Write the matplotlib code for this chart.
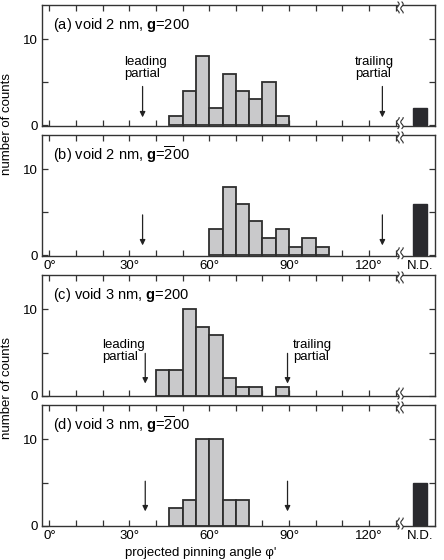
import numpy as np
import matplotlib
matplotlib.use('Agg')
from matplotlib import pyplot as plt
from matplotlib.patches import Polygon

plt.rcParams['font.family'] = ['Liberation Sans', 'DejaVu Sans']
plt.rcParams['mathtext.fontset'] = 'custom'
plt.rcParams['mathtext.rm'] = 'Liberation Sans'
plt.rcParams['mathtext.bf'] = 'Liberation Sans:bold'

# histogram data (5 degree bins, left edges)
bin_edges = [40, 45, 50, 55, 60, 65, 70, 75, 80, 85, 90, 95, 100]
counts_a = [0, 1, 4, 8, 2, 6, 4, 3, 5, 1, 0, 0, 0]
counts_b = [0, 0, 0, 0, 3, 8, 6, 4, 2, 3, 1, 2, 1]
counts_c = [3, 3, 10, 8, 7, 2, 1, 1, 0, 1, 0, 0, 0]
counts_d = [0, 2, 3, 10, 10, 3, 3, 0, 0, 0, 0, 0, 0]
nd_counts = [2, 6, 0, 5]

titles = [r'(a) void 2 nm, $\mathbf{g}$=200',
          r'(b) void 2 nm, $\mathbf{g}$=$\overline{2}$00',
          r'(c) void 3 nm, $\mathbf{g}$=200',
          r'(d) void 3 nm, $\mathbf{g}$=$\overline{2}$00']
# partial dislocation arrow positions (deg)
leading = [35, 35, 36, 36]
trailing = [125, 125, 89.4, 89.4]

tick_pos = list(range(0, 140, 10))
tick_labels = ['%d°' % t if t % 30 == 0 and t <= 120 else '' for t in tick_pos]

W, H = 444, 560
fig = plt.figure(figsize=(W / 100, H / 100), dpi=100)

# axes boxes in pixels (top, bottom)
boxes = [(5, 125.5), (135, 255.7), (275, 396), (405, 526)]
left, right = 42, 435

bar_face = '#c9c9cb'
edge = '#2e2e2e'
nd_x = 139
brk = 131.6


def draw_break(ax, x0):
    tr = ax.get_xaxis_transform()
    t = np.linspace(0, 1, 40)
    wig = 0.45 * np.sin(2 * np.pi * 1.25 * t)
    for ybase, sign in [(0, 1), (1, -1)]:
        ys = ybase + sign * (-0.025 + 0.09 * t)
        xl = x0 - 0.75 + wig
        xr = x0 + 0.75 + wig
        pts = np.column_stack([np.concatenate([xl, xr[::-1]]),
                               np.concatenate([ys, ys[::-1]])])
        ax.add_patch(Polygon(pts, closed=True, facecolor='white', edgecolor='none',
                             transform=tr, clip_on=False, zorder=5))
        for xs in (xl, xr):
            ax.plot(xs, ys, color=edge, lw=0.8, transform=tr, clip_on=False, zorder=6)


all_counts = [counts_a, counts_b, counts_c, counts_d]
axes = []
for i, (top, bot) in enumerate(boxes):
    ax = fig.add_axes([left / W, 1 - bot / H, (right - left) / W, (bot - top) / H])
    axes.append(ax)
    xs = [b for b, c in zip(bin_edges, all_counts[i]) if c > 0]
    hs = [c for c in all_counts[i] if c > 0]
    ax.bar(xs, hs, width=5, align='edge', color=bar_face, edgecolor=edge, lw=1.3, zorder=2)
    if nd_counts[i] > 0:
        ax.bar([nd_x], [nd_counts[i]], width=5.3, color='#2a2a2e', edgecolor='#2a2a2e',
               lw=1.0, zorder=2)
    ax.set_xlim(-2.75, 144.75)
    ax.set_ylim(-0.05, 14)
    ax.set_yticks([0, 5, 10])
    ax.set_yticklabels(['0', '', '10'])
    ax.set_xticks(tick_pos)
    ax.tick_params(direction='in', length=4, width=0.9, color='#333333', labelsize=9.5,
                   top=True, right=True, pad=3)
    if i in (1, 3):
        ax.set_xticklabels(tick_labels)
        ax.text(nd_x, -0.035, 'N.D.', transform=ax.get_xaxis_transform(),
                ha='center', va='top', fontsize=9.5)
    else:
        ax.set_xticklabels([])
    for s in ax.spines.values():
        s.set_color('#333333')
        s.set_linewidth(1.0)
    ax.text(1.5, 11.7, titles[i], ha='left', va='center', fontsize=10.5)
    draw_break(ax, brk)

arrow = dict(arrowstyle='-|>', color='#222222', lw=0.9, mutation_scale=8, shrinkA=0, shrinkB=0)
# (a)
axes[0].annotate('', xy=(leading[0], 0.9), xytext=(leading[0], 4.5), arrowprops=arrow)
axes[0].annotate('', xy=(trailing[0], 0.9), xytext=(trailing[0], 4.5), arrowprops=arrow)
axes[0].text(27.9, 6.6, 'leading\npartial', ha='left', va='center', fontsize=9.5, linespacing=1.0)
axes[0].text(114.7, 6.6, 'trailing\npartial', ha='left', va='center', fontsize=9.5, linespacing=1.0)
# (b)
axes[1].annotate('', xy=(leading[1], 1.15), xytext=(leading[1], 4.7), arrowprops=arrow)
axes[1].annotate('', xy=(trailing[1], 1.15), xytext=(trailing[1], 4.7), arrowprops=arrow)
# (c)
axes[2].annotate('', xy=(leading[2], 1.4), xytext=(leading[2], 4.9), arrowprops=arrow)
axes[2].annotate('', xy=(trailing[2], 1.4), xytext=(trailing[2], 4.9), arrowprops=arrow)
axes[2].text(19.8, 5.2, 'leading\npartial', ha='left', va='center', fontsize=9.5, linespacing=1.0)
axes[2].text(91.4, 5.2, 'trailing\npartial', ha='left', va='center', fontsize=9.5, linespacing=1.0)
# (d)
axes[3].annotate('', xy=(leading[3], 1.65), xytext=(leading[3], 5.15), arrowprops=arrow)
axes[3].annotate('', xy=(trailing[3], 1.65), xytext=(trailing[3], 5.15), arrowprops=arrow)

fig.text(7 / W, 1 - 124 / H, 'number of counts', rotation=90, ha='center', va='center', fontsize=9.5)
fig.text(7 / W, 1 - 388 / H, 'number of counts', rotation=90, ha='center', va='center', fontsize=9.5)
fig.text(201 / W, 1 - 553 / H, "projected pinning angle φ'", ha='center', va='center', fontsize=9.5)

fig.savefig('out.png', dpi=100)
